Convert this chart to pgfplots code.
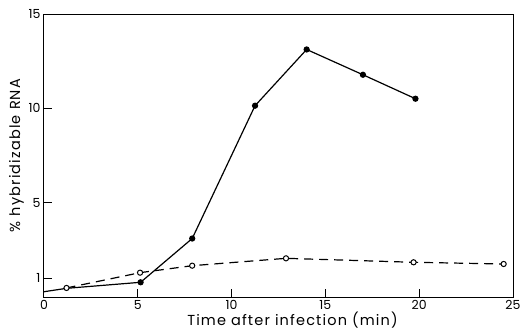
\documentclass[border=0pt]{standalone}
\usepackage{fontspec}
\setmainfont{Poppins}
\usepackage{pgfplots}
\pgfplotsset{compat=1.18}
\usetikzlibrary{calc}
\begin{document}
\begin{tikzpicture}
\begin{axis}[
  scale only axis,
  width=469pt, height=283pt,
  xmin=0, xmax=25, ymin=0, ymax=15,
  xtick={0,5,10,15,20,25},
  ytick={1,5,10,15},
  tick align=inside,
  major tick length=8pt,
  xtick pos=bottom, ytick pos=left,
  axis line style={line width=1pt},
  tick style={line width=1pt, black},
  /pgf/number format/assume math mode=true,
  ticklabel style={font=\fontsize{12.5}{14}\selectfont},
  xlabel={\addfontfeature{LetterSpace=8}Time after infection (min)},
  ylabel={\addfontfeature{LetterSpace=8}\% hybridizable RNA},
  label style={font=\fontsize{14.5}{16}\selectfont},
  xlabel style={yshift=5pt, xshift=14pt},
  ylabel style={yshift=-2pt},
]
\coordinate (bl) at (rel axis cs:0,0);
\coordinate (tr) at (rel axis cs:1,1);
\addplot[black, line width=1.2pt, mark=*, mark size=2.5pt, mark indices={3,4,5,6,7,8}, mark options={solid}] coordinates {
  (0,0.28) (1.2,0.46) (5.15,0.78) (7.9,3.1) (11.25,10.14) (14.0,13.12) (17.0,11.78) (19.8,10.51)
};
\addplot[black, line width=1.2pt, dash pattern=on 9pt off 6pt, mark=*, mark size=2.6pt, mark options={solid, draw=black, line width=1pt, fill=white}] coordinates {
  (1.2,0.48) (5.12,1.29) (7.9,1.66) (12.9,2.05) (19.7,1.84) (24.5,1.75)
};
\end{axis}
\path ($(bl)+(-44pt,-38pt)$) rectangle ($(tr)+(13pt,14pt)$);
\end{tikzpicture}
\end{document}
